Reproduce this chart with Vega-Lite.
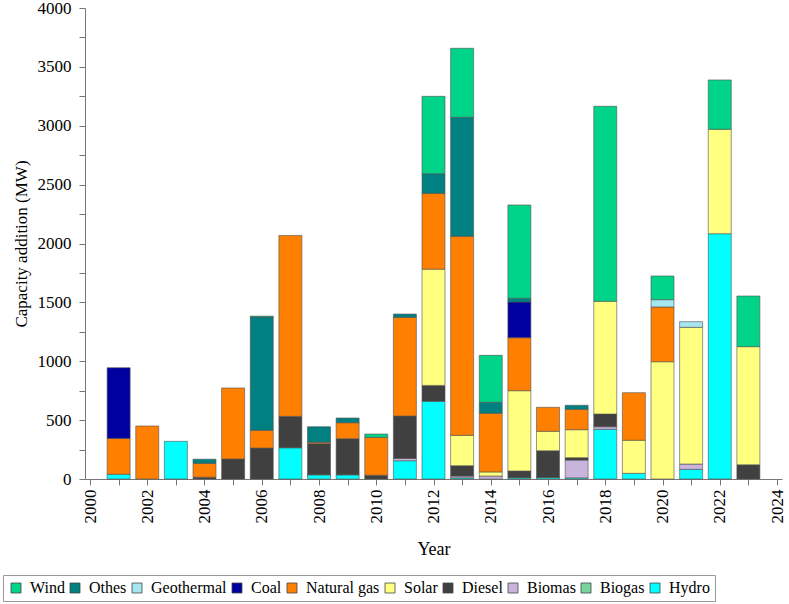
{
  "$schema": "https://vega.github.io/schema/vega-lite/v6.json",
  "width": 697,
  "height": 471,
  "autosize": "none",
  "padding": {"left": 85, "top": 8, "right": 7, "bottom": 125},
  "background": "white",
  "config": {
    "view": {"stroke": null},
    "font": "Liberation Serif, Times New Roman, serif",
    "axis": {"labelFont": "Liberation Serif, Times New Roman, serif", "titleFont": "Liberation Serif, Times New Roman, serif"},
    "legend": {"labelFont": "Liberation Serif, Times New Roman, serif", "titleFont": "Liberation Serif, Times New Roman, serif"}
  },
  "data": {
    "values": [
      {"year": 2001, "source": "Hydro", "mw": 40},
      {"year": 2001, "source": "Natural gas", "mw": 305},
      {"year": 2001, "source": "Coal", "mw": 600},
      {"year": 2002, "source": "Natural gas", "mw": 450},
      {"year": 2003, "source": "Hydro", "mw": 320},
      {"year": 2004, "source": "Diesel", "mw": 15},
      {"year": 2004, "source": "Natural gas", "mw": 118},
      {"year": 2004, "source": "Othes", "mw": 35},
      {"year": 2005, "source": "Diesel", "mw": 170},
      {"year": 2005, "source": "Natural gas", "mw": 603},
      {"year": 2006, "source": "Diesel", "mw": 263},
      {"year": 2006, "source": "Natural gas", "mw": 150},
      {"year": 2006, "source": "Othes", "mw": 962},
      {"year": 2006, "source": "Wind", "mw": 8},
      {"year": 2007, "source": "Hydro", "mw": 265},
      {"year": 2007, "source": "Diesel", "mw": 267},
      {"year": 2007, "source": "Natural gas", "mw": 1536},
      {"year": 2008, "source": "Hydro", "mw": 35},
      {"year": 2008, "source": "Diesel", "mw": 265},
      {"year": 2008, "source": "Natural gas", "mw": 12},
      {"year": 2008, "source": "Othes", "mw": 132},
      {"year": 2009, "source": "Hydro", "mw": 35},
      {"year": 2009, "source": "Diesel", "mw": 307},
      {"year": 2009, "source": "Natural gas", "mw": 136},
      {"year": 2009, "source": "Othes", "mw": 40},
      {"year": 2010, "source": "Diesel", "mw": 32},
      {"year": 2010, "source": "Natural gas", "mw": 322},
      {"year": 2010, "source": "Wind", "mw": 28},
      {"year": 2011, "source": "Hydro", "mw": 155},
      {"year": 2011, "source": "Biomas", "mw": 20},
      {"year": 2011, "source": "Diesel", "mw": 360},
      {"year": 2011, "source": "Natural gas", "mw": 838},
      {"year": 2011, "source": "Othes", "mw": 28},
      {"year": 2012, "source": "Hydro", "mw": 660},
      {"year": 2012, "source": "Diesel", "mw": 135},
      {"year": 2012, "source": "Solar", "mw": 987},
      {"year": 2012, "source": "Natural gas", "mw": 644},
      {"year": 2012, "source": "Othes", "mw": 167},
      {"year": 2012, "source": "Wind", "mw": 657},
      {"year": 2013, "source": "Hydro", "mw": 10},
      {"year": 2013, "source": "Biomas", "mw": 15},
      {"year": 2013, "source": "Diesel", "mw": 88},
      {"year": 2013, "source": "Solar", "mw": 258},
      {"year": 2013, "source": "Natural gas", "mw": 1690},
      {"year": 2013, "source": "Othes", "mw": 1011},
      {"year": 2013, "source": "Wind", "mw": 586},
      {"year": 2014, "source": "Biomas", "mw": 25},
      {"year": 2014, "source": "Solar", "mw": 35},
      {"year": 2014, "source": "Natural gas", "mw": 498},
      {"year": 2014, "source": "Othes", "mw": 93},
      {"year": 2014, "source": "Wind", "mw": 399},
      {"year": 2015, "source": "Hydro", "mw": 10},
      {"year": 2015, "source": "Diesel", "mw": 58},
      {"year": 2015, "source": "Solar", "mw": 682},
      {"year": 2015, "source": "Natural gas", "mw": 450},
      {"year": 2015, "source": "Coal", "mw": 303},
      {"year": 2015, "source": "Othes", "mw": 32},
      {"year": 2015, "source": "Wind", "mw": 792},
      {"year": 2016, "source": "Hydro", "mw": 12},
      {"year": 2016, "source": "Diesel", "mw": 228},
      {"year": 2016, "source": "Solar", "mw": 165},
      {"year": 2016, "source": "Natural gas", "mw": 204},
      {"year": 2017, "source": "Hydro", "mw": 10},
      {"year": 2017, "source": "Biomas", "mw": 151},
      {"year": 2017, "source": "Diesel", "mw": 20},
      {"year": 2017, "source": "Solar", "mw": 238},
      {"year": 2017, "source": "Natural gas", "mw": 173},
      {"year": 2017, "source": "Othes", "mw": 34},
      {"year": 2018, "source": "Hydro", "mw": 422},
      {"year": 2018, "source": "Biomas", "mw": 22},
      {"year": 2018, "source": "Diesel", "mw": 108},
      {"year": 2018, "source": "Solar", "mw": 957},
      {"year": 2018, "source": "Wind", "mw": 1656},
      {"year": 2019, "source": "Hydro", "mw": 48},
      {"year": 2019, "source": "Solar", "mw": 281},
      {"year": 2019, "source": "Natural gas", "mw": 404},
      {"year": 2020, "source": "Solar", "mw": 996},
      {"year": 2020, "source": "Natural gas", "mw": 465},
      {"year": 2020, "source": "Geothermal", "mw": 62},
      {"year": 2020, "source": "Wind", "mw": 201},
      {"year": 2021, "source": "Hydro", "mw": 82},
      {"year": 2021, "source": "Biomas", "mw": 45},
      {"year": 2021, "source": "Solar", "mw": 1161},
      {"year": 2021, "source": "Geothermal", "mw": 48},
      {"year": 2022, "source": "Hydro", "mw": 2083},
      {"year": 2022, "source": "Solar", "mw": 887},
      {"year": 2022, "source": "Wind", "mw": 419},
      {"year": 2023, "source": "Diesel", "mw": 121},
      {"year": 2023, "source": "Solar", "mw": 1003},
      {"year": 2023, "source": "Wind", "mw": 430}
    ]
  },
  "transform": [
    {"calculate": "indexof(['Hydro', 'Biogas', 'Biomas', 'Diesel', 'Solar', 'Natural gas', 'Coal', 'Geothermal', 'Othes', 'Wind'], datum.source)", "as": "stackOrder"}
  ],
  "mark": {"type": "bar", "size": 23, "stroke": "#505050", "strokeWidth": 0.6},
  "encoding": {
    "x": {
      "field": "year",
      "type": "quantitative",
      "title": "Year",
      "scale": {"domain": [2000, 2024], "nice": false, "zero": false},
      "axis": {
        "values": [2000, 2001, 2002, 2003, 2004, 2005, 2006, 2007, 2008, 2009, 2010, 2011, 2012, 2013, 2014, 2015, 2016, 2017, 2018, 2019, 2020, 2021, 2022, 2023, 2024],
        "format": "d",
        "labelExpr": "datum.value % 2 == 0 ? datum.label : ''",
        "labelAngle": -90,
        "labelFontSize": 17,
        "labelColor": "black",
        "labelPadding": 4,
        "grid": false,
        "domainColor": "#777",
        "tickColor": "#777",
        "tickSize": 6,
        "titleFontSize": 18,
        "titleFontWeight": "normal",
        "titleColor": "black",
        "titlePadding": 17
      }
    },
    "y": {
      "field": "mw",
      "type": "quantitative",
      "aggregate": "sum",
      "stack": "zero",
      "title": "Capacity addition (MW)",
      "scale": {"domain": [0, 4000], "nice": false},
      "axis": {
        "values": [0, 250, 500, 750, 1000, 1250, 1500, 1750, 2000, 2250, 2500, 2750, 3000, 3250, 3500, 3750, 4000],
        "labelExpr": "datum.value % 500 == 0 ? datum.label : ''",
        "format": "d",
        "labelFontSize": 17,
        "labelColor": "black",
        "labelPadding": 8,
        "grid": false,
        "domainColor": "#777",
        "tickColor": "#777",
        "tickSize": 6,
        "titleFontSize": 17,
        "titleFontWeight": "normal",
        "titleColor": "black",
        "titlePadding": 7
      }
    },
    "color": {
      "field": "source",
      "type": "nominal",
      "scale": {
        "domain": ["Wind", "Othes", "Geothermal", "Coal", "Natural gas", "Solar", "Diesel", "Biomas", "Biogas", "Hydro"],
        "range": ["#00d488", "#008080", "#a6e6ee", "#0000a0", "#ff8000", "#ffff80", "#404040", "#c8b4dc", "#78d49c", "#00ffff"]
      },
      "legend": {
        "title": null,
        "orient": "none",
        "legendX": -82,
        "legendY": 567,
        "direction": "horizontal",
        "columns": 10,
        "strokeColor": "#999",
        "padding": 5,
        "symbolType": "square",
        "symbolSize": 100,
        "symbolStrokeColor": "#444",
        "symbolStrokeWidth": 0.8,
        "labelFontSize": 16,
        "labelColor": "black",
        "columnPadding": 2,
        "labelOffset": 6
      }
    },
    "order": {"field": "stackOrder", "type": "quantitative", "sort": "ascending"},
    "tooltip": [
      {"field": "year", "type": "quantitative"},
      {"field": "source", "type": "nominal"},
      {"field": "mw", "type": "quantitative"}
    ]
  }
}
